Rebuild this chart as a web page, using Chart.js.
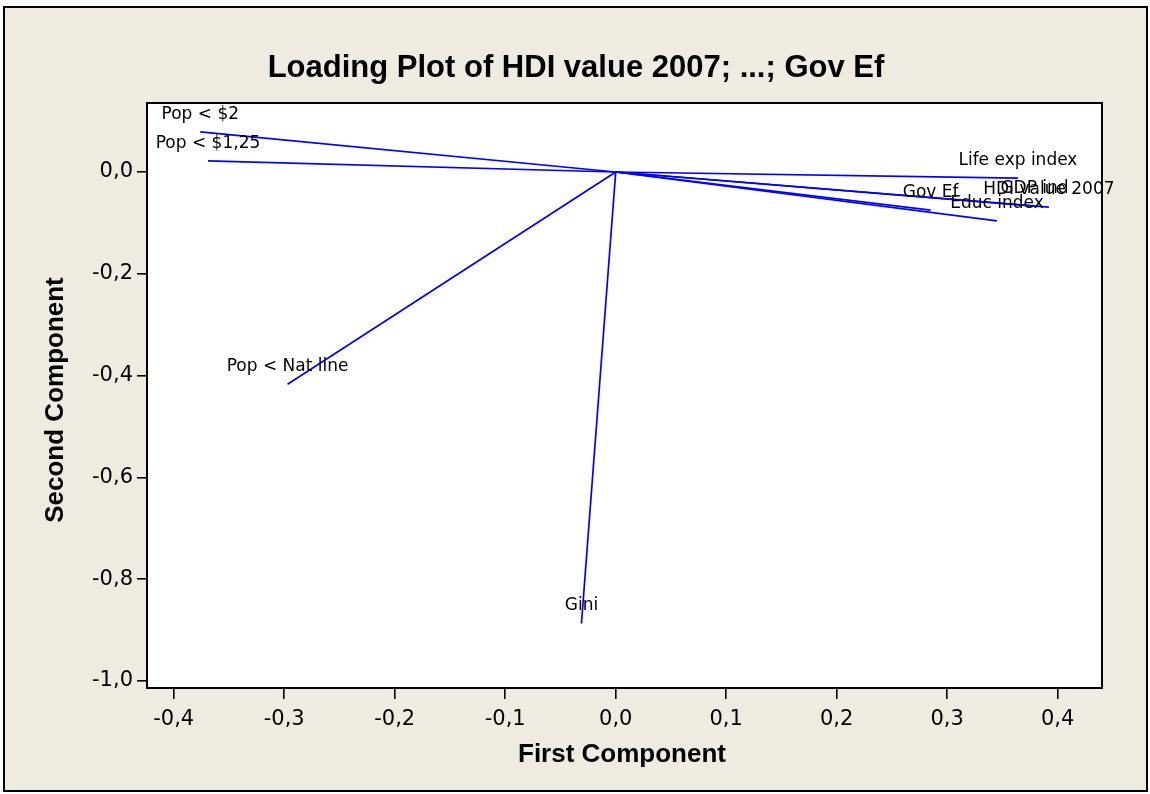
<!DOCTYPE html>
<html><head><meta charset="utf-8">
<script src="https://cdn.jsdelivr.net/npm/chart.js@4.4.1/dist/chart.umd.min.js"></script>
<style>
html,body{margin:0;padding:0;background:#FFFFFF;}
#wrap{position:absolute;left:3px;top:6px;width:1145px;height:786px;box-sizing:border-box;border:2px solid #000;background:#EFEBE1;}
canvas{display:block;}
</style></head>
<body><div id="wrap"><canvas id="c" width="1141" height="782"></canvas></div>
<script>
const variables = ["HDI value 2007","GDP ind","Life exp index","Educ index","Gov Ef","Pop < $2","Pop < $1,25","Pop < Nat line","Gini"];
const firstComponent  = [0.392, 0.379, 0.364, 0.345, 0.285, -0.376, -0.369, -0.297, -0.031];
const secondComponent = [-0.069, -0.067, -0.012, -0.096, -0.075, 0.079, 0.022, -0.417, -0.887];
const xTicks = [-0.4,-0.3,-0.2,-0.1,0.0,0.1,0.2,0.3,0.4];
const yTicks = [0.0,-0.2,-0.4,-0.6,-0.8,-1.0];
const titleText = "Loading Plot of HDI value 2007; ...; Gov Ef";
const xTitle = "First Component";
const yTitle = "Second Component";

const fmt = v => (Math.abs(v) < 1e-9 ? 0 : v).toFixed(1).replace('.', ',');

const datasets = variables.map((name, i) => ({
  label: name,
  data: [{x:0,y:0},{x:firstComponent[i], y:secondComponent[i]}],
  showLine: true,
  borderColor: '#0000FF',
  borderWidth: 1.7,
  pointRadius: 0,
  fill: false
}));

const W = 1141, H = 782;
const PLOT = {left:142, top:95, right:1097, bottom:680};

const decor = {
  id:'decor',
  beforeDraw(chart){
    const ctx = chart.ctx, a = chart.chartArea;
    ctx.save();
    ctx.fillStyle = '#FFFFFF';
    ctx.fillRect(a.left, a.top, a.right-a.left, a.bottom-a.top);
    ctx.restore();
  },
  afterDraw(chart){
    const ctx = chart.ctx, a = chart.chartArea;
    const xs = chart.scales.x, ys = chart.scales.y;
    ctx.save();
    ctx.strokeStyle = '#000'; ctx.lineWidth = 2;
    ctx.strokeRect(a.left, a.top, a.right-a.left, a.bottom-a.top);
    // variable labels
    ctx.fillStyle = '#000';
    ctx.font = '17px "DejaVu Sans", Verdana, sans-serif';
    ctx.textAlign = 'center'; ctx.textBaseline = 'alphabetic';
    variables.forEach((n,i)=>{
      const px = xs.getPixelForValue(firstComponent[i]);
      const py = ys.getPixelForValue(secondComponent[i]);
      ctx.fillText(n, px, py - 13);
    });
    // title
    ctx.font = 'bold 31px "Liberation Sans", Arial, sans-serif';
    ctx.fillText(titleText, 571, 69);
    // axis titles
    ctx.font = 'bold 26px "Liberation Sans", Arial, sans-serif';
    ctx.fillText(xTitle, 617, 754);
    ctx.translate(58, 392);
    ctx.rotate(-Math.PI/2);
    ctx.fillText(yTitle, 0, 0);
    ctx.restore();
  }
};

new Chart(document.getElementById('c'), {
  type:'scatter',
  data:{datasets},
  options:{
    responsive:false, animation:false,
    layout:{padding:{left:0, top:PLOT.top, right:W-PLOT.right, bottom:0}},
    plugins:{legend:{display:false}, tooltip:{enabled:false}, title:{display:false}},
    scales:{
      x:{
        type:'linear', min:-0.4242, max:0.4401,
        afterBuildTicks(s){ s.ticks = xTicks.map(v=>({value:v})); },
        afterFit(s){ s.height = H - PLOT.bottom; },
        grid:{drawOnChartArea:false, drawTicks:true, tickLength:11, color:'#000', lineWidth:1.6},
        border:{display:false},
        ticks:{color:'#000', font:{family:'"DejaVu Sans", Verdana, sans-serif', size:21}, padding:8, callback:v=>fmt(v), maxRotation:0, autoSkip:false}
      },
      y:{
        type:'linear', min:-1.0138, max:0.1356,
        afterBuildTicks(s){ s.ticks = yTicks.map(v=>({value:v})); },
        afterFit(s){ s.width = PLOT.left; },
        grid:{drawOnChartArea:false, drawTicks:true, tickLength:10, color:'#000', lineWidth:1.6},
        border:{display:false},
        ticks:{color:'#000', font:{family:'"DejaVu Sans", Verdana, sans-serif', size:21}, padding:4, callback:v=>fmt(v), autoSkip:false}
      }
    }
  },
  plugins:[decor]
});
</script></body></html>
